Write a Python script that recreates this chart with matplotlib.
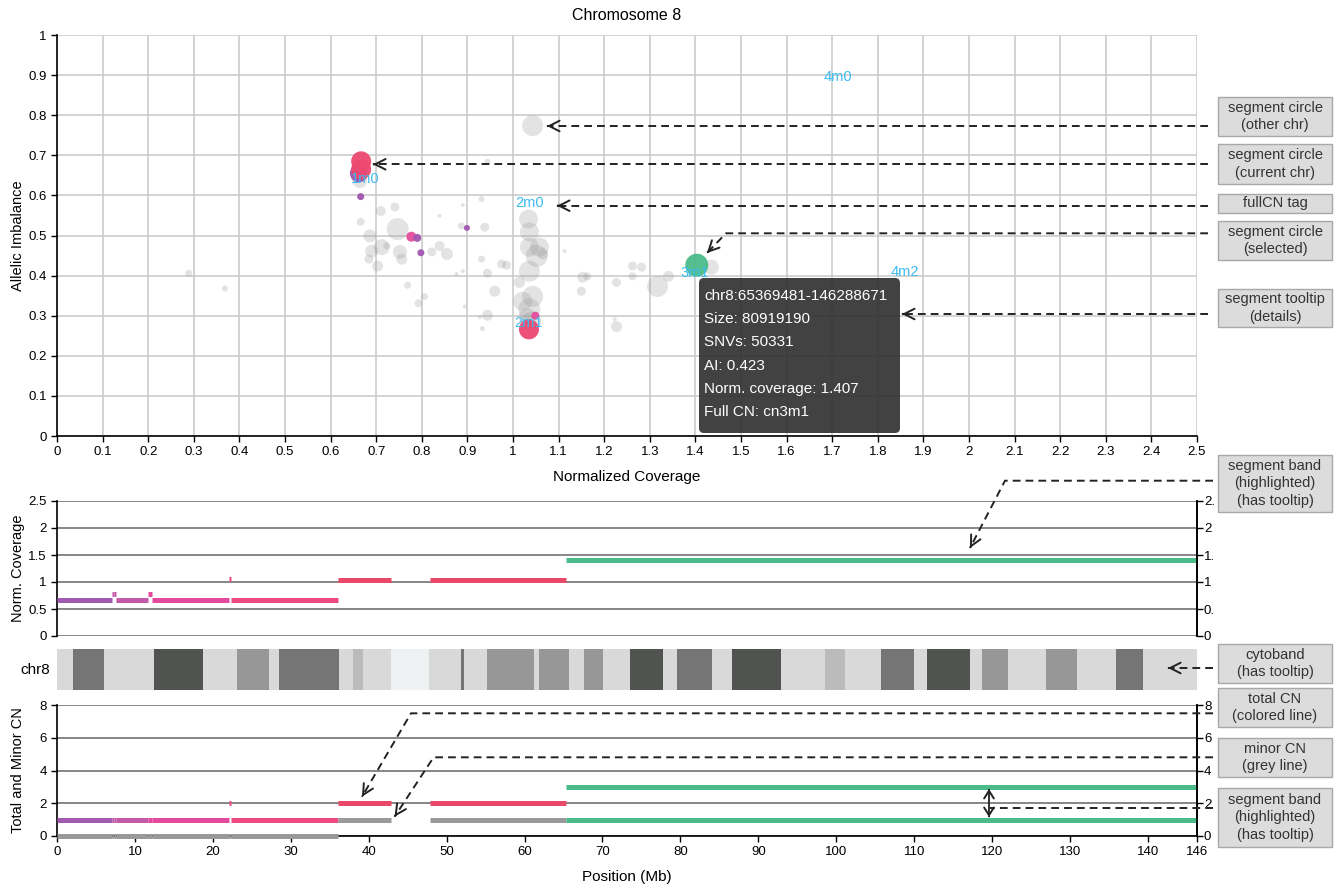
import numpy as np
import matplotlib.pyplot as plt
from matplotlib.patches import FancyBboxPatch, Rectangle

plt.rcParams['font.family'] = ['Liberation Sans', 'DejaVu Sans']

W, H = 1337, 885
chr_len = 146.288671

# segment circles from other chromosomes: coverage, AI, diameter (px)
other_cov = [1.043, 0.944, 0.931, 0.890, 1.034, 0.938, 0.887, 0.839, 0.741, 0.710,
             0.666, 0.747, 0.686, 0.712, 0.723, 0.690, 0.752, 0.756, 0.703, 0.684,
             0.822, 0.839, 0.855, 0.931, 0.890, 0.876, 0.944, 0.769, 0.806, 0.793,
             0.960, 0.944, 0.927, 0.933, 0.894, 1.036, 1.036, 1.058, 1.052, 1.036,
             1.014, 1.043, 1.021, 1.036, 1.032, 1.040, 1.113, 1.153, 1.163, 1.150,
             0.289, 0.368, 0.975, 0.986, 1.223, 1.227, 1.262, 1.282, 1.262, 1.227,
             1.317, 1.341, 1.435, 1.065, 0.664]
other_ai = [0.774, 0.684, 0.591, 0.576, 0.541, 0.521, 0.524, 0.549, 0.571, 0.561,
            0.534, 0.516, 0.499, 0.471, 0.474, 0.461, 0.459, 0.441, 0.424, 0.441,
            0.459, 0.474, 0.454, 0.441, 0.411, 0.404, 0.406, 0.376, 0.348, 0.331,
            0.361, 0.301, 0.296, 0.268, 0.323, 0.509, 0.471, 0.471, 0.449, 0.411,
            0.383, 0.348, 0.336, 0.316, 0.296, 0.285, 0.461, 0.396, 0.398, 0.361,
            0.406, 0.368, 0.429, 0.426, 0.291, 0.273, 0.424, 0.421, 0.398, 0.383,
            0.373, 0.398, 0.421, 0.454, 0.637]
other_d = [21, 6, 6, 4, 19, 9, 7, 4, 9, 10,
           8, 22, 13, 16, 7, 13, 14, 11, 11, 9,
           9, 10, 12, 7, 4, 4, 9, 7, 7, 8,
           11, 11, 4, 5, 4, 19, 19, 19, 22, 21,
           11, 21, 19, 22, 18, 20, 4, 11, 8, 9,
           7, 6, 9, 9, 4, 11, 9, 9, 8, 9,
           21, 11, 15, 11, 15]

# segment circles of chr8
cur_cov = [0.662, 0.667, 0.667, 0.666, 0.777, 0.790, 0.798, 0.899, 1.035, 1.049, 1.403]
cur_ai = [0.655, 0.685, 0.665, 0.597, 0.497, 0.494, 0.457, 0.519, 0.266, 0.300, 0.426]
cur_d = [18, 20, 20, 7, 10, 8, 7, 6, 20, 8, 23]
cur_col = ['#a055b0', '#ee4870', '#ee4870', '#a055b0', '#e64d9c', '#a055b0',
           '#a055b0', '#a055b0', '#ee4870', '#e64d9c', '#4cbb8a']

# full CN tags
tag_text = ['1m0', '2m0', '2m1', '3m1', '4m0', '4m2']
tag_cov = [0.675, 1.037, 1.035, 1.398, 1.713, 1.860]
tag_ai = [0.640, 0.580, 0.283, 0.406, 0.895, 0.409]

# segments along chr8 (Mb)
seg_start = [0.0, 7.0, 7.35, 7.6, 11.7, 12.2, 22.05, 22.3, 36.1, 47.9, 65.37]
seg_end = [7.0, 7.3, 7.6, 11.7, 12.2, 22.05, 22.3, 36.0, 42.8, 65.3, 146.29]
seg_cov = [0.66, 0.78, 0.78, 0.66, 0.777, 0.66, 1.06, 0.66, 1.04, 1.04, 1.407]
seg_col = ['#a05ab0', '#c25aa8', '#c25aa8', '#c25aa8', '#e24a9e', '#e24a9e',
           '#ec4a80', '#ec4a80', '#ea4868', '#ea4868', '#4cbb8a']
cn_total = [1, 1, 1, 1, 1, 1, 2, 1, 2, 2, 3]
cn_minor = [0, 0, 0, 0, 0, 0, 0, 0, 1, 1, 1]
minor_col = ['#999999'] * 10 + ['#4cbb8a']

# cytobands of chr8 (stained bands over gneg background)
band_start = [2.0, 12.5, 23.1, 28.5, 38.0, 42.9, 51.9, 55.2, 61.9, 67.6,
              73.5, 79.6, 86.6, 98.6, 105.8, 111.7, 118.7, 126.9, 135.9]
band_end = [6.0, 18.7, 27.2, 36.2, 39.3, 47.8, 52.2, 61.2, 65.7, 70.1,
            77.8, 84.1, 92.9, 101.1, 110.0, 117.2, 122.0, 130.9, 139.3]
band_stain = ['gpos75', 'gpos100', 'gpos50', 'gpos75', 'gpos25', 'gvar', 'gpos75',
              'gpos50', 'gpos50', 'gpos50', 'gpos100', 'gpos75', 'gpos100', 'gpos25',
              'gpos75', 'gpos100', 'gpos50', 'gpos50', 'gpos75']
stain_col = {'gneg': '#d9d9d9', 'gpos25': '#bbbbbb', 'gpos50': '#979797',
             'gpos75': '#757575', 'gpos100': '#515351', 'gvar': '#eef2f2'}

tooltip_lines = ['chr8:65369481-146288671', 'Size: 80919190', 'SNVs: 50331',
                 'AI: 0.423', 'Norm. coverage: 1.407', 'Full CN: cn3m1']


def rect(l, t, r, b):
    return [l / W, 1 - b / H, (r - l) / W, (b - t) / H]


def msize(d):
    return (np.array(d) * 0.72) ** 2


fig = plt.figure(figsize=(W / 100, H / 100), dpi=100)

# ---------- scatter ----------
ax1 = fig.add_axes(rect(57, 35, 1197, 436))
ax1.scatter(other_cov, other_ai, s=msize(other_d), color='#999999', alpha=0.27,
            lw=0, zorder=2)
ax1.scatter(cur_cov, cur_ai, s=msize(cur_d), c=cur_col, alpha=0.95, lw=0, zorder=3)
for t, x, y in zip(tag_text, tag_cov, tag_ai):
    ax1.text(x, y, t, color='#3bbcf0', fontsize=10.5, ha='center', va='center', zorder=4)
ax1.set_xlim(0, 2.5)
ax1.set_ylim(0, 1)
xt = np.round(np.arange(0, 2.51, 0.1), 1)
yt = np.round(np.arange(0, 1.01, 0.1), 1)
ax1.set_xticks(xt)
ax1.set_xticklabels([f'{v:g}' for v in xt])
ax1.set_yticks(yt)
ax1.set_yticklabels([f'{v:g}' for v in yt])
ax1.grid(True, color='#c8c8c8', lw=1.1)
ax1.set_axisbelow(True)
for s in ['top', 'right']:
    ax1.spines[s].set_visible(False)
for s in ['left', 'bottom']:
    ax1.spines[s].set_linewidth(1.2)
ax1.tick_params(labelsize=9.5, length=4, width=1)

fig.text(627 / W, 1 - 16 / H, 'Chromosome 8', ha='center', va='center', fontsize=11.5)
fig.text(627 / W, 1 - 477 / H, 'Normalized Coverage', ha='center', va='center', fontsize=11)
fig.text(18 / W, 1 - 236 / H, 'Allelic Imbalance', ha='center', va='center',
         rotation=90, fontsize=10.5)

# ---------- normalized coverage track ----------
ax2 = fig.add_axes(rect(57, 501, 1197, 636))
ax2.hlines(seg_cov, seg_start, seg_end, colors=seg_col, lw=3.6, capstyle='butt', zorder=3)
ax2.set_xlim(0, chr_len)
ax2.set_ylim(0, 2.5)
ax2.set_yticks([0, 0.5, 1, 1.5, 2, 2.5])
ax2.set_yticklabels(['0', '0.5', '1', '1.5', '2', '2.5'])
ax2.set_xticks([])
ax2.grid(True, axis='y', color='#666666', lw=1.1)
for s in ['top', 'bottom']:
    ax2.spines[s].set_visible(False)
ax2.spines['left'].set_linewidth(1.2)
ax2.spines['right'].set_linewidth(1.2)
ax2.tick_params(labelsize=9.5, length=4, width=1)
ax2r = ax2.twinx()
ax2r.set_ylim(0, 2.5)
ax2r.set_yticks([0, 0.5, 1, 1.5, 2, 2.5])
ax2r.set_yticklabels(['0', '0.', '1', '1.', '2', '2.'])
ax2r.tick_params(labelsize=9.5, length=4, width=1, pad=1)
for s in ['top', 'bottom', 'left']:
    ax2r.spines[s].set_visible(False)
ax2r.spines['right'].set_linewidth(1.2)
fig.text(18 / W, 1 - 568 / H, 'Norm. Coverage', ha='center', va='center',
         rotation=90, fontsize=10.5)

# ---------- cytoband ----------
ax3 = fig.add_axes(rect(57, 649, 1197, 690))
ax3.broken_barh([(0, chr_len)], (0, 1), facecolors=stain_col['gneg'])
ax3.broken_barh([(a, b - a) for a, b in zip(band_start, band_end)], (0, 1),
                facecolors=[stain_col[s] for s in band_stain])
ax3.set_xlim(0, chr_len)
ax3.set_ylim(0, 1)
ax3.axis('off')
ax3.text(-0.006, 0.5, 'chr8', transform=ax3.transAxes, ha='right', va='center',
         fontsize=11)

# ---------- copy number track ----------
ax4 = fig.add_axes(rect(57, 705, 1197, 836))
ax4.hlines(cn_minor, seg_start, seg_end, colors=minor_col, lw=3.6, capstyle='butt',
           zorder=5, clip_on=False)
ax4.hlines(cn_total, seg_start, seg_end, colors=seg_col, lw=3.6, capstyle='butt', zorder=4)
ax4.set_xlim(0, chr_len)
ax4.set_ylim(0, 8)
ax4.set_yticks([0, 2, 4, 6, 8])
ax4.set_xticks(list(range(0, 141, 10)) + [chr_len])
ax4.set_xticklabels([str(v) for v in range(0, 141, 10)] + ['146'])
ax4.grid(True, axis='y', color='#666666', lw=1.1)
ax4.spines['top'].set_visible(False)
for s in ['left', 'right', 'bottom']:
    ax4.spines[s].set_linewidth(1.2)
ax4.tick_params(labelsize=9.5, length=4, width=1)
ax4r = ax4.twinx()
ax4r.set_ylim(0, 8)
ax4r.set_yticks([0, 2, 4, 6, 8])
ax4r.tick_params(labelsize=9.5, length=4, width=1, pad=1)
for s in ['top', 'bottom', 'left']:
    ax4r.spines[s].set_visible(False)
ax4r.spines['right'].set_linewidth(1.2)
fig.text(18 / W, 1 - 770 / H, 'Total and Minor CN', ha='center', va='center',
         rotation=90, fontsize=10.5)
fig.text(627 / W, 1 - 877 / H, 'Position (Mb)', ha='center', va='center', fontsize=11)

# ---------- annotation overlay (pixel coordinates) ----------
ov = fig.add_axes([0, 0, 1, 1], zorder=10)
ov.set_xlim(0, W)
ov.set_ylim(H, 0)
ov.axis('off')
ov.patch.set_alpha(0)

# tooltip
ov.add_patch(FancyBboxPatch((699, 278), 201, 155, boxstyle='round,pad=0,rounding_size=5',
                            fc='#333333', ec='none', alpha=0.93))
for i, line in enumerate(tooltip_lines):
    ov.text(704, 296 + i * 23.2, line, color='white', fontsize=11, va='center')

ink = '#222222'


def head(tip, frm, hl=0.75, hw=0.38):
    ov.annotate('', xy=tip, xytext=frm,
                arrowprops=dict(arrowstyle=f'->,head_length={hl},head_width={hw}',
                                lw=1.4, color=ink, shrinkA=0, shrinkB=0))


def arrow(pts):
    xs, ys = zip(*pts)
    ov.plot(xs, ys, color=ink, lw=1.4, ls=(0, (4, 2.6)))
    (x0, y0), (x1, y1) = pts[-2], pts[-1]
    L = np.hypot(x1 - x0, y1 - y0)
    head((x1, y1), (x1 - (x1 - x0) / L, y1 - (y1 - y0) / L))


arrow([(1208, 126), (547, 126)])
arrow([(1208, 164.3), (373, 164.3)])
arrow([(1208, 205.7), (557, 205.7)])
arrow([(1208, 233.3), (726, 233.3), (707, 253)])
arrow([(1208, 314), (902, 314)])
arrow([(1213, 480.7), (1005, 480.7), (970, 548)])
arrow([(1213, 668), (1168, 668)])
arrow([(1213, 713.3), (411, 713.3), (362, 796.7)])
arrow([(1213, 757.3), (433.6, 757.3), (394.6, 816.7)])
ov.plot([1213, 990], [807.7, 807.7], color=ink, lw=1.4, ls=(0, (4, 2.6)))
ov.plot([989, 989], [790, 816], color=ink, lw=1.3)
head((989, 789), (989, 790), hl=0.55, hw=0.35)
head((989, 817), (989, 816), hl=0.55, hw=0.35)

boxes = [(97, 136, 'segment circle\n(other chr)'),
         (144, 184, 'segment circle\n(current chr)'),
         (194, 213, 'fullCN tag'),
         (221, 260, 'segment circle\n(selected)'),
         (289, 327, 'segment tooltip\n(details)'),
         (455, 512, 'segment band\n(highlighted)\n(has tooltip)'),
         (644, 683, 'cytoband\n(has tooltip)'),
         (688, 727, 'total CN\n(colored line)'),
         (738, 777, 'minor CN\n(grey line)'),
         (788, 847, 'segment band\n(highlighted)\n(has tooltip)')]
for top, bot, txt in boxes:
    ov.add_patch(Rectangle((1218, top), 114, bot - top, fc='#dcdcdc', ec='#a8a8a8', lw=1))
    ov.text(1275, (top + bot) / 2, txt, ha='center', va='center', fontsize=10.5,
            color='#333333', linespacing=1.3)

fig.savefig('out.png', dpi=100)
